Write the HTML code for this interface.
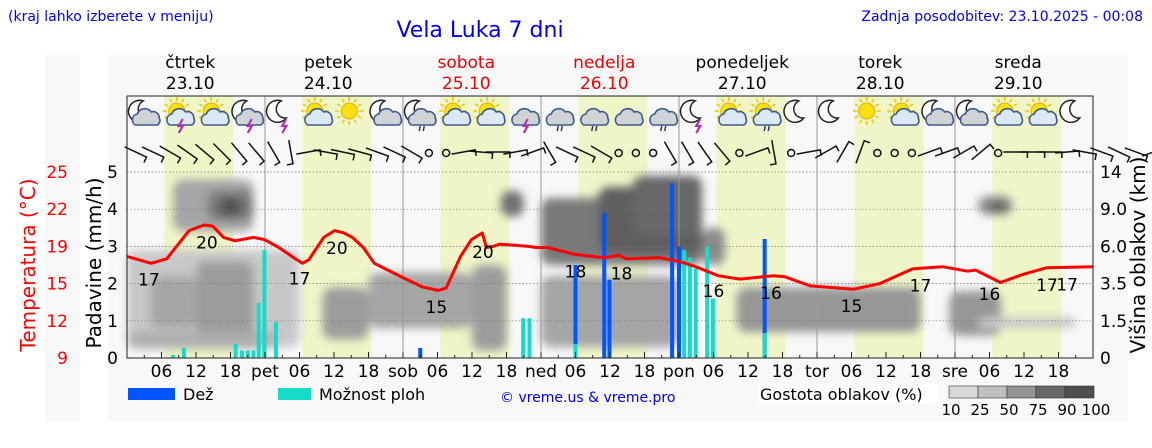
<!DOCTYPE html>
<html><head><meta charset="utf-8">
<style>
html,body{margin:0;padding:0;background:#fff;}
body{width:1152px;height:443px;overflow:hidden;position:relative;font-family:"Liberation Sans","DejaVu Sans",sans-serif;}
svg text{font-family:"DejaVu Sans","Liberation Sans",sans-serif;}
</style></head>
<body>
<svg id="chart" width="1152" height="443" viewBox="0 0 1152 443" xmlns="http://www.w3.org/2000/svg">
<defs><filter id="blur" x="-20%" y="-20%" width="140%" height="140%"><feGaussianBlur stdDeviation="4.5"/></filter></defs>
<rect x="45" y="55" width="35" height="367" fill="#f8f8f8"/>
<rect x="108" y="55" width="1020" height="367" fill="#f8f8f8"/>
<text x="8" y="21" font-size="14" fill="#0000ee" font-family="Liberation Sans">(kraj lahko izberete v meniju)</text>
<text x="480" y="37" font-size="22" fill="#0000ee" text-anchor="middle" font-family="Liberation Sans">Vela Luka 7 dni</text>
<text x="1143" y="21" font-size="14" fill="#0000ee" text-anchor="end" font-family="Liberation Sans">Zadnja posodobitev: 23.10.2025 - 00:08</text>
<g id="bands"></g>
<g id="clouds" filter="url(#blur)"></g>
<g id="grid"></g>
<g id="icons"></g>
<g id="wind"></g>
<g id="bars"></g>
<g id="temp"></g>
<g id="axes"></g>
<g id="legend">
<rect x="128" y="388" width="47" height="12" fill="#0055ff"/>
<text x="183" y="400" font-size="16">Dež</text>
<rect x="278" y="388" width="33" height="12" fill="#14dcc8"/>
<text x="319" y="400" font-size="16">Možnost ploh</text>
<text x="500" y="402" font-size="14" fill="#0000ee" font-family="Liberation Sans">© vreme.us &amp; vreme.pro</text>
<rect x="759" y="384" width="180" height="20" fill="#fff"/>
<text x="760" y="400" font-size="16">Gostota oblakov (%)</text>
</g>
</svg>
<script>
// ---- data ----
const tempHours=[0,4.2,6.9,10.8,13.4,14.9,16.8,18.8,22,23.9,26.4,29,30.5,31.6,34.2,36.1,37.7,39.2,41.1,43,48.1,51.4,54.1,55.5,58,59.9,61.8,62.5,63.7,64.8,69.8,71.2,73.1,77.9,82.9,85.6,86.8,92.7,96.5,98.9,102.8,106.6,112.5,114.4,118.8,126.4,130.9,136.6,141.8,146.2,147.6,151.9,155.7,159.9,168];
const tempValues=[18.0,17.4,17.8,20.3,20.8,20.7,19.7,19.4,19.7,19.5,18.8,17.9,17.4,17.7,19.7,20.3,20.1,19.7,18.8,17.4,16.1,15.3,15.0,15.2,18.0,19.5,20.1,18.8,18.9,19.1,18.9,18.8,18.8,18.2,17.9,18.1,17.8,17.9,17.5,17.1,16.3,16.0,16.3,16.2,15.4,15.1,15.6,16.9,17.1,16.7,16.8,15.7,16.4,17.0,17.1];
const labelHours=[3.8,13.9,30,36.5,53.8,61.9,78,86,102,112,126,138,150,160,163.5];
const labelTemps=["17","20","17","20","15","20","18","18","16","16","15","17","16","17","17"];
const rainHours=[51,78,83,83.9,94.8,96,110.9];
const rainValues=[0.27,2.5,3.9,2.1,4.7,3.0,3.2];
const showerHours=[8,9.9,18.9,20,21,22,22.9,23.9,25.9,68.9,70,78,96.9,97.9,98.9,100.9,101.9,110.9];
const showerValues=[0.08,0.27,0.38,0.2,0.2,0.2,1.48,2.9,0.97,1.07,1.07,0.38,2.9,2.7,2.4,3.0,1.6,0.67];
// cloud patches: start hour, end hour, low level, high level, density %
const cloudStart=[0,4,12,34,42,60,0,8,14,16,65,72,72,82,88,100,106,143,148,148,150];
const cloudEnd=[30,12,22,42,60,66,26,22,22,20,69,100,96,100,100,104,138,152,165,154,153];
const cloudLow=[0.3,0.8,0.5,0.5,0.8,0.2,0.25,3.4,3.7,3.8,3.8,2.5,0.3,2.8,3.3,2.5,0.7,0.6,0.8,3.85,3.95];
const cloudHigh=[2.9,2.2,2.6,1.9,2.3,2.5,0.7,4.8,4.5,4.3,4.5,4.3,2.2,4.6,4.9,3.5,1.9,1.8,1.1,4.35,4.2];
const cloudDensity=[20,40,45,45,40,45,35,40,65,88,70,65,40,80,75,55,48,48,20,55,85];
const iconTypes=["mc","sct","sc","mct","mt","sc","s","mc","mcr","sc","sc","ct","cr","cr","c","cr","mt","sc","scr","m","m","s","sc","mc","mc","sc","sc","m"];
const windAngles=[25,25,30,35,40,45,50,50,60,80,-10,10,12,15,20,25,30,-1,-1,-10,5,0,-10,-20,60,25,25,30,-1,-1,-1,60,60,55,50,-1,-20,80,-1,-10,-30,-60,-70,-1,-1,-1,-20,-20,-30,-40,-1,0,0,0,-5,10,20,25,20,-20];
const dayNames=["čtrtek","petek","sobota","nedelja","ponedeljek","torek","sreda"];
const dayDates=["23.10","24.10","25.10","26.10","27.10","28.10","29.10"];
const dayShort=["","pet","sob","ned","pon","tor","sre"];
const weekend=[false,false,true,true,false,false,false];
const levelTicks=[0,1,2,3,4,5];
const tempTicks=["9","12","15","19","22","25"];
const kmTicks=["0","1.5","3.5","6.0","9.0","14"];
const densityLabels=["10","25","50","75","90","100"];
const densitySwatch=[10,25,50,75,90];

// ---- scales ----
const X0=127,X1=1093,YB=358,YT=96,LV=37.2;
function xH(h){return X0+h*(X1-X0)/168;}
function yL(l){return YB-l*LV;}
function yTemp(t){return yL((t-9)/3.3);}
function gray(d){const g=Math.round(235-d*1.75);return "rgb("+g+","+g+","+g+")";}
const NS="http://www.w3.org/2000/svg";
function mk(tag,attrs,parent){const e=document.createElementNS(NS,tag);for(const k in attrs)e.setAttribute(k,attrs[k]);parent.appendChild(e);return e;}
const G=id=>document.getElementById(id);

// bands
for(let d=0;d<7;d++){
  const r=mk("rect",{x:xH(d*24+6.5),y:YT,width:xH(12)-X0,height:YB-YT,fill:"#f0f5c8"},G("bands"));
  
  
}
// clouds
for(let i=0;i<cloudStart.length;i++){
  const r=mk("rect",{x:xH(cloudStart[i]),y:yL(cloudHigh[i]),width:xH(cloudEnd[i])-xH(cloudStart[i]),height:(cloudHigh[i]-cloudLow[i])*LV,rx:10,fill:gray(cloudDensity[i])},G("clouds"));
  
  
}
// grid
for(const l of levelTicks){ if(l>0&&l<=5){
  const ln=mk("line",{x1:X0,x2:X1,y1:yL(l),y2:yL(l),stroke:"#777","stroke-width":0.7,"stroke-dasharray":"1.5,2"},G("grid"));
  
  
}}
for(let d=1;d<7;d++){
  const ln=mk("line",{x1:xH(d*24),x2:xH(d*24),y1:YT,y2:YB,stroke:"#999","stroke-width":1},G("grid"));
  
  
}
// icons
function sun(g,cx,cy,r){for(let a=0;a<360;a+=30){const rad=a*Math.PI/180;mk("line",{x1:cx+Math.cos(rad)*(r+2),y1:cy+Math.sin(rad)*(r+2),x2:cx+Math.cos(rad)*(r+6),y2:cy+Math.sin(rad)*(r+6),stroke:"#e8c800","stroke-width":1.5},g);}mk("circle",{cx:cx,cy:cy,r:r,fill:"#f8e010",stroke:"#e0b000","stroke-width":1},g);}
function moon(g,cx,cy){mk("path",{d:`M${cx+3},${cy-11} A11,11 0 1,0 ${cx+8},${cy+6} A9,9 0 0,1 ${cx+3},${cy-11}Z`,fill:"#fff",stroke:"#222","stroke-width":1.5},g);}
function cloud(g,cx,cy,fill,stroke){mk("path",{d:`M${cx-12},${cy+6} a6,6 0 0,1 2,-11 a8,8 0 0,1 14,-2 a6,6 0 0,1 8,6 a5,5 0 0,1 -2,7 Z`,fill:fill,stroke:stroke,"stroke-width":1.6},g);}
function bolt(g,cx,cy){mk("path",{d:`M${cx+2},${cy} l-4,7 h4 l-4,7`,fill:"none",stroke:"#b030b0","stroke-width":2.2},g);}
function rain(g,cx,cy){mk("path",{d:`M${cx-2},${cy} l-1,5 M${cx+2},${cy} l-1,5`,stroke:"#335","stroke-width":1.5},g);}
for(let i=0;i<iconTypes.length;i++){
  const t=iconTypes[i],cx=xH(i*6+3),cy=114;
  const g=mk("g",{},G("icons"));
  
  
  if(t[0]==="m")moon(g,cx-4,cy-2);
  if(t[0]==="s")sun(g,cx-2,cy-3,8);
  if(t.indexOf("c")>=0)cloud(g,cx+3,cy+5,t[0]==="c"||t[0]==="m"?"#cfd3d6":"#dde8f5","#3a5a8a");
  if(t.indexOf("t")>=0)bolt(g,cx+2,cy+5);
  if(t.indexOf("r")>=0)rain(g,cx+2,cy+12);
}
// wind
for(let i=0;i<windAngles.length;i++){
  const cx=xH(i*3+1.5),cy=152,a=windAngles[i];
  let el;
  if(a===-1){el=mk("circle",{cx:cx,cy:cy+1,r:3.5,fill:"none",stroke:"#111","stroke-width":1.5},G("wind"));}
  else{const rad=a*Math.PI/180,dx=Math.cos(rad)*12,dy=Math.sin(rad)*12;
    el=mk("path",{d:`M${cx-dx},${cy-dy} L${cx+dx},${cy+dy} l${-Math.sin(rad)*6},${Math.cos(rad)*6-0} `,fill:"none",stroke:"#111","stroke-width":1.5},G("wind"));}
  
  
}
// bars
for(let i=0;i<rainHours.length;i++){
  const r=mk("rect",{x:xH(rainHours[i])-2,y:yL(rainValues[i]),width:4,height:rainValues[i]*LV,fill:"#0055ff"},G("bars"));
  
  
}
for(let i=0;i<showerHours.length;i++){
  const r=mk("rect",{x:xH(showerHours[i])-2,y:yL(showerValues[i]),width:4,height:showerValues[i]*LV,fill:"#14dcc8"},G("bars"));
  
  
}
// temperature
let d="";for(let i=0;i<tempHours.length;i++)d+=(i?"L":"M")+xH(tempHours[i]).toFixed(1)+","+yTemp(tempValues[i]).toFixed(1);
const tl=mk("path",{d:d,fill:"none",stroke:"#ff0000","stroke-width":3,"stroke-linejoin":"round"},G("temp"));


function tempAt(h){for(let i=1;i<tempHours.length;i++){if(h<=tempHours[i]){const f=(h-tempHours[i-1])/(tempHours[i]-tempHours[i-1]);return tempValues[i-1]+f*(tempValues[i]-tempValues[i-1]);}}return tempValues[tempValues.length-1];}
for(let i=0;i<labelHours.length;i++){
  const t=mk("text",{x:xH(labelHours[i]),y:yTemp(tempAt(labelHours[i]))+23,"font-size":17,"text-anchor":"middle",fill:"#000"},G("temp"));
  t.textContent=labelTemps[i];
  
  
}
// axes
const ax=G("axes");
const fr=mk("rect",{x:X0,y:YT,width:X1-X0,height:YB-YT,fill:"none",stroke:"#222","stroke-width":1},ax);


for(let i=0;i<levelTicks.length;i++){
  const y=yL(levelTicks[i]);
  let t=mk("text",{x:118,y:y+6,"font-size":17,"text-anchor":"end"},ax);t.textContent=String(levelTicks[i]);
  
  
  t=mk("text",{x:68,y:y+6,"font-size":17,"text-anchor":"end",fill:"#ff0000"},ax);t.textContent=tempTicks[i];
  
  
  t=mk("text",{x:1100,y:y+6,"font-size":17},ax);t.textContent=kmTicks[i];
  
  
}
for(let h=0;h<=168;h+=3){
  const tk=mk("line",{x1:xH(h),x2:xH(h),y1:YB,y2:YB-(h%6===0?6:3),stroke:"#222"},ax);
  
  
}
for(let dd=0;dd<7;dd++){
  for(const hh of [0,6,12,18]){
    if(dd===0&&hh===0)continue;
    const t=mk("text",{x:xH(dd*24+hh),y:377,"font-size":17,"text-anchor":"middle"},ax);
    t.textContent=hh===0?dayShort[dd]:(hh<10?"0"+hh:String(hh));
    
    
  }
  const cx=xH(dd*24+11);
  let t=mk("text",{x:cx,y:68,"font-size":17,"text-anchor":"middle",fill:weekend[dd]?"#ee0000":"#000"},ax);t.textContent=dayNames[dd];
  
  
  t=mk("text",{x:cx,y:89,"font-size":17,"text-anchor":"middle",fill:weekend[dd]?"#ee0000":"#000"},ax);t.textContent=dayDates[dd];
  
  
}
let at=mk("text",{x:0,y:0,"font-size":20,"text-anchor":"middle",fill:"#ff0000",transform:"translate(35,265) rotate(-90)"},ax);at.textContent="Temperatura (°C)";


at=mk("text",{x:0,y:0,"font-size":20,"text-anchor":"middle",fill:"#000",transform:"translate(101,263) rotate(-90)"},ax);at.textContent="Padavine (mm/h)";


at=mk("text",{x:0,y:0,"font-size":20,"text-anchor":"middle",fill:"#000",transform:"translate(1145,255) rotate(-90)"},ax);at.textContent="Višina oblakov (km)";


// density legend
for(let i=0;i<densitySwatch.length;i++){
  const r=mk("rect",{x:949+i*29,y:386,width:29,height:12,fill:gray(densitySwatch[i]),stroke:"#333","stroke-width":0.6},G("legend"));
  
  
}
for(let i=0;i<densityLabels.length;i++){
  const t=mk("text",{x:951+i*29,y:415,"font-size":15,"text-anchor":"middle"},G("legend"));
  t.textContent=densityLabels[i];
  
  
}
</script>
</body></html>
